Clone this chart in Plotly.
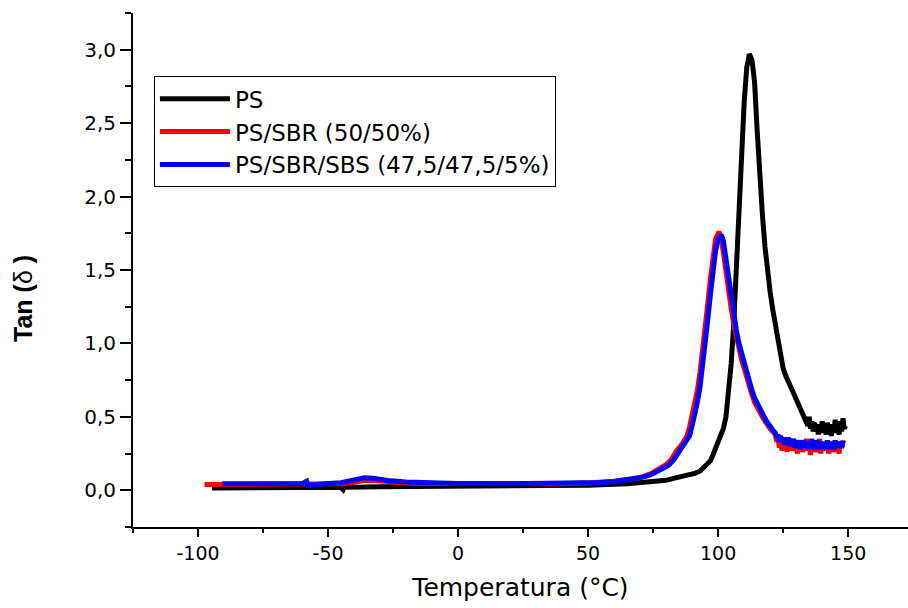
import plotly.graph_objects as go

# ---------------- data ----------------
ps_T = [-94.6, -80, -60, -45, -44.2, -43.8, -30, -10, 10, 30, 50, 65, 75, 80, 84, 88, 91, 93,
        95, 97, 98, 99, 100, 101, 102, 103, 104, 105, 106, 107, 108, 109, 110, 111, 112,
        113, 114, 115, 116, 117, 118, 119, 120, 121, 122, 123, 124, 125, 126, 127, 128,
        129, 130, 131, 132, 133, 134, 134.5, 135, 135.5, 136, 136.5, 137, 137.5, 138,
        138.5, 139, 139.5, 140, 140.5, 141, 141.5, 142, 142.5, 143, 143.5, 144, 144.5,
        145, 145.5, 146, 146.5, 147, 147.5, 148, 148.5, 149]
ps_v = [0.016, 0.017, 0.018, 0.020, 0.004, 0.020, 0.024, 0.027, 0.029, 0.031, 0.034, 0.045, 0.058,
        0.068, 0.086, 0.100, 0.115, 0.13, 0.16, 0.20, 0.24, 0.28, 0.32, 0.37, 0.42, 0.50,
        0.66, 0.86, 1.14, 1.53, 1.93, 2.32, 2.64, 2.88, 2.97, 2.93, 2.78, 2.45, 2.12, 1.88,
        1.66, 1.48, 1.35, 1.23, 1.12, 1.00, 0.90, 0.83, 0.78, 0.73, 0.70, 0.66, 0.62, 0.59,
        0.55, 0.51, 0.48, 0.44, 0.50, 0.42, 0.47, 0.40, 0.46, 0.41, 0.45, 0.38, 0.44, 0.40,
        0.47, 0.39, 0.43, 0.38, 0.46, 0.40, 0.44, 0.37, 0.45, 0.39, 0.48, 0.40, 0.43, 0.38,
        0.47, 0.40, 0.49, 0.42, 0.44]

sbr_T = [-97.5, -80, -60, -45, -40, -36, -32, -27, -20, -10, 0, 20, 40, 50, 55, 60, 65, 70,
         74, 77.5, 80, 82, 84, 86, 88, 89, 90, 91, 92, 93, 94, 95, 96, 97, 98, 99, 100.3,
         101, 102, 103, 104, 105, 106, 107, 108, 109, 110, 111, 112, 113, 114, 115, 116,
         117, 118, 119, 120, 121, 122, 122.5, 123, 123.5, 124, 124.5, 125, 125.5, 126,
         126.5, 127, 127.5, 128, 128.5, 129, 129.5, 130, 130.5, 131, 131.5, 132, 132.5,
         133, 133.5, 134, 134.5, 135, 135.5, 136, 136.5, 137, 137.5, 138, 138.5, 139,
         139.5, 140, 140.5, 141, 141.5, 142, 142.5, 143, 143.5, 144, 144.5, 145, 145.5,
         146, 146.5, 147, 147.5, 148, 148.5]
sbr_v = [0.039, 0.038, 0.040, 0.044, 0.055, 0.068, 0.066, 0.056, 0.049, 0.046, 0.045, 0.043,
         0.045, 0.050, 0.055, 0.062, 0.074, 0.088, 0.112, 0.150, 0.175, 0.21, 0.27, 0.31,
         0.37, 0.43, 0.51, 0.59, 0.68, 0.80, 0.94, 1.10, 1.27, 1.44, 1.59, 1.71, 1.76,
         1.73, 1.62, 1.48, 1.35, 1.24, 1.13, 1.04, 0.96, 0.89, 0.83, 0.76, 0.70, 0.65,
         0.60, 0.56, 0.53, 0.50, 0.47, 0.44, 0.42, 0.40, 0.38, 0.33, 0.37, 0.29, 0.36,
         0.27, 0.35, 0.30, 0.34, 0.26, 0.35, 0.29, 0.33, 0.27, 0.34, 0.28, 0.32, 0.25,
         0.33, 0.29, 0.34, 0.26, 0.32, 0.28, 0.35, 0.27, 0.33, 0.24, 0.32, 0.28, 0.34,
         0.26, 0.31, 0.28, 0.35, 0.25, 0.33, 0.27, 0.32, 0.29, 0.34, 0.25, 0.31, 0.28,
         0.33, 0.26, 0.34, 0.27, 0.32, 0.25, 0.33, 0.29, 0.34]

sbs_T = [-90.7, -75, -60, -58.2, -57.8, -50, -45, -40, -36, -32, -27, -20, -10, 0, 20, 40,
         50, 55, 60, 65, 70, 74, 78, 81, 83, 85, 87, 89, 90, 91, 92, 93, 94, 95, 96, 97,
         98, 99, 100, 101.2, 102, 103, 104, 105, 106, 107, 108, 109, 110, 111, 112, 113,
         114, 115, 116, 117, 118, 119, 120, 121, 122, 122.5, 123, 123.5, 124, 124.5, 125,
         125.5, 126, 126.5, 127, 127.5, 128, 128.5, 129, 129.5, 130, 130.5, 131, 131.5,
         132, 132.5, 133, 133.5, 134, 134.5, 135, 135.5, 136, 136.5, 137, 137.5, 138,
         138.5, 139, 139.5, 140, 140.5, 141, 141.5, 142, 142.5, 143, 143.5, 144, 144.5,
         145, 145.5, 146, 146.5, 147, 147.5, 148, 148.5]
sbs_v = [0.045, 0.044, 0.045, 0.062, 0.034, 0.046, 0.052, 0.070, 0.086, 0.080, 0.066, 0.056,
         0.050, 0.047, 0.045, 0.046, 0.050, 0.053, 0.060, 0.070, 0.085, 0.105, 0.140,
         0.170, 0.21, 0.26, 0.31, 0.37, 0.44, 0.51, 0.60, 0.70, 0.84, 0.99, 1.16, 1.33,
         1.50, 1.63, 1.71, 1.74, 1.70, 1.57, 1.42, 1.30, 1.19, 1.09, 1.00, 0.93, 0.87,
         0.80, 0.73, 0.68, 0.63, 0.59, 0.55, 0.52, 0.49, 0.46, 0.43, 0.41, 0.39, 0.36,
         0.38, 0.33, 0.37, 0.34, 0.36, 0.31, 0.35, 0.32, 0.36, 0.30, 0.34, 0.31, 0.35,
         0.29, 0.33, 0.30, 0.34, 0.28, 0.33, 0.30, 0.34, 0.29, 0.33, 0.28, 0.32, 0.30,
         0.35, 0.28, 0.32, 0.29, 0.34, 0.28, 0.32, 0.30, 0.33, 0.28, 0.31, 0.29, 0.34,
         0.28, 0.33, 0.30, 0.32, 0.28, 0.34, 0.29, 0.33, 0.30, 0.31, 0.29, 0.33, 0.32]

series_names = ["PS", "PS/SBR (50/50%)", "PS/SBR/SBS (47,5/47,5/5%)"]
series_colors = ["#000000", "#ff0000", "#0000ff"]

x_ticks = [-100, -50, 0, 50, 100, 150]
y_ticks = [0.0, 0.5, 1.0, 1.5, 2.0, 2.5, 3.0]

# ---------------- figure ----------------
FONT = "DejaVu Sans, Arial, Liberation Sans, sans-serif"
fig = go.Figure()
for T, v, name, col in zip([ps_T, sbr_T, sbs_T], [ps_v, sbr_v, sbs_v], series_names, series_colors):
    fig.add_trace(go.Scatter(x=T, y=v, mode="lines", name=name,
                             line=dict(color=col, width=5)))

fig.update_layout(
    width=908, height=608,
    margin=dict(l=133, r=0, t=13, b=81),
    plot_bgcolor="white", paper_bgcolor="white",
    separators=",.",
    font=dict(family=FONT, color="black"),
    showlegend=True,
    legend=dict(x=0.027, y=0.877, xanchor="left", yanchor="top",
                bordercolor="black", borderwidth=1, bgcolor="white",
                font=dict(size=23, family=FONT, color="black"),
                itemwidth=70, tracegroupgap=0),
)
fig.update_xaxes(
    range=[-125, 173], showgrid=False, zeroline=False,
    showline=True, linecolor="black", linewidth=2,
    tickmode="array", tickvals=x_ticks, ticktext=[str(t) for t in x_ticks],
    ticks="outside", ticklen=8, tickwidth=2, tickcolor="black",
    minor=dict(ticks="outside", dtick=25, tick0=-125, ticklen=4, tickwidth=2, tickcolor="black"),
    tickfont=dict(size=19, family=FONT),
    title=dict(text="Temperatura (°C)", font=dict(size=25, family=FONT), standoff=16),
)
fig.update_yaxes(
    range=[-0.25, 3.25], showgrid=False, zeroline=False,
    showline=True, linecolor="black", linewidth=2,
    tickmode="array", tickvals=y_ticks, ticktext=[f"{t:.1f}".replace(".", ",") for t in y_ticks],
    ticks="outside", ticklen=11, tickwidth=2, tickcolor="black",
    minor=dict(ticks="outside", dtick=0.25, tick0=0, ticklen=6, tickwidth=2, tickcolor="black"),
    tickfont=dict(size=20, family=FONT),
    title=dict(text=""),
)
fig.add_annotation(xref="paper", yref="paper", x=-0.141, y=0.445,
                   xanchor="center", yanchor="middle",
                   text="<b>Tan (</b>δ<b> )</b>", textangle=-90, showarrow=False,
                   font=dict(size=25, family="Arial, Liberation Sans, sans-serif", color="black"))

fig.write_html("out.html", config={"displayModeBar": False},
               post_script="document.body.style.margin='0';")
